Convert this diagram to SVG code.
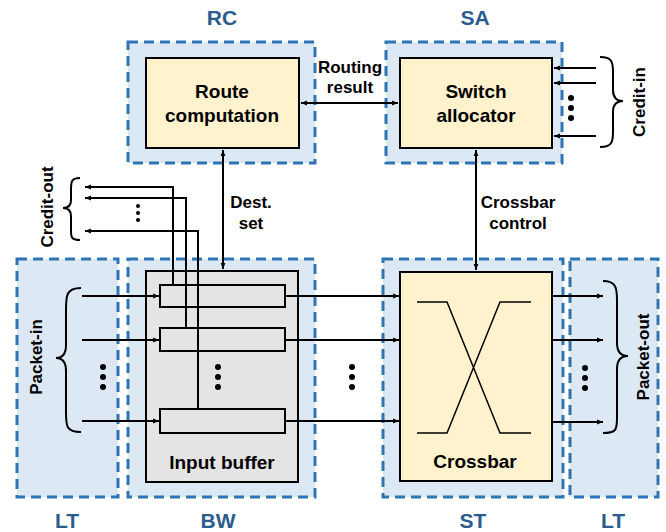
<svg xmlns="http://www.w3.org/2000/svg" width="666" height="532" viewBox="0 0 666 532">
<defs>
<marker id="ah" viewBox="0 0 10 10" refX="10" refY="5" markerWidth="6" markerHeight="6" orient="auto-start-reverse" markerUnits="userSpaceOnUse">
<path d="M0,1 L10,5 L0,9 z" fill="#000"/>
</marker>
<style>
.stage{fill:#DDE8F5;stroke:#2E75B6;stroke-width:3;stroke-dasharray:10 6}
.blk{fill:#FFF2CC;stroke:#000;stroke-width:2}
.buf{fill:#E4E4E4;stroke:#000;stroke-width:2}
.slot{fill:#E4E4E4;stroke:#000;stroke-width:2}
.ln{fill:none;stroke:#000;stroke-width:2}
.th{fill:none;stroke:#000;stroke-width:1.5}
.t{font-family:"Liberation Sans",Arial,sans-serif;font-weight:bold;fill:#000;text-anchor:middle}
.st{font-family:"Liberation Sans",Arial,sans-serif;font-weight:bold;fill:#2B5C8E;text-anchor:middle;font-size:21px}
</style>
</defs>
<rect width="666" height="532" fill="#fff"/>

<g id="stages">
<rect class="stage" x="128" y="42" width="187" height="121"/>
<rect class="stage" x="386" y="42" width="176" height="121"/>
<rect class="stage" x="17" y="259" width="101" height="238"/>
<rect class="stage" x="128" y="259" width="187" height="238"/>
<rect class="stage" x="383" y="259" width="180" height="238"/>
<rect class="stage" x="570" y="259" width="88" height="238"/>
<text class="st" x="222" y="25">RC</text>
<text class="st" x="475" y="25">SA</text>
<text class="st" x="67" y="528">LT</text>
<text class="st" x="218" y="528">BW</text>
<text class="st" x="473" y="528">ST</text>
<text class="st" x="613" y="528">LT</text>
</g>

<g id="rc">
<rect class="blk" x="146" y="58" width="153" height="90"/>
<text class="t" x="222" y="98" font-size="19">Route</text>
<text class="t" x="222" y="122" font-size="19">computation</text>
</g>

<g id="sa">
<rect class="blk" x="400" y="58" width="152" height="90"/>
<text class="t" x="476" y="98" font-size="19">Switch</text>
<text class="t" x="476" y="122" font-size="19">allocator</text>
</g>

<g id="ib">
<rect class="buf" x="146" y="271" width="152" height="211"/>
<rect class="slot" x="160" y="285" width="125" height="22"/>
<rect class="slot" x="160" y="328" width="125" height="23"/>
<rect class="slot" x="160" y="409" width="125" height="24"/>
<text class="t" x="222" y="469" font-size="19">Input buffer</text>
</g>

<g id="xbar">
<rect class="blk" x="400" y="272" width="152" height="209"/>
<path class="th" d="M417,302 H447 L500,433 H531 M417,433 H447 L500,302 H531"/>
<text class="t" x="475" y="468" font-size="19">Crossbar</text>
</g>

<g id="connectors">
<line class="ln" x1="301" y1="103" x2="398" y2="103" marker-start="url(#ah)" marker-end="url(#ah)"/>
<line class="ln" x1="223" y1="150" x2="223" y2="269" marker-start="url(#ah)" marker-end="url(#ah)"/>
<line class="ln" x1="476" y1="150" x2="476" y2="270" marker-start="url(#ah)" marker-end="url(#ah)"/>
<line class="ln" x1="596" y1="68" x2="554" y2="68" marker-end="url(#ah)"/>
<line class="ln" x1="596" y1="83" x2="554" y2="83" marker-end="url(#ah)"/>
<line class="ln" x1="596" y1="136" x2="554" y2="136" marker-end="url(#ah)"/>
<line class="ln" x1="82" y1="296" x2="159" y2="296" marker-end="url(#ah)"/>
<line class="ln" x1="82" y1="340" x2="159" y2="340" marker-end="url(#ah)"/>
<line class="ln" x1="82" y1="421" x2="159" y2="421" marker-end="url(#ah)"/>
<line class="ln" x1="285" y1="296" x2="399" y2="296" marker-end="url(#ah)"/>
<line class="ln" x1="285" y1="340" x2="399" y2="340" marker-end="url(#ah)"/>
<line class="ln" x1="285" y1="421" x2="399" y2="421" marker-end="url(#ah)"/>
<line class="ln" x1="552" y1="296" x2="603" y2="296" marker-end="url(#ah)"/>
<line class="ln" x1="552" y1="340" x2="603" y2="340" marker-end="url(#ah)"/>
<line class="ln" x1="552" y1="422" x2="603" y2="422" marker-end="url(#ah)"/>
<polyline class="ln" points="173,285 173,187 85,187" marker-end="url(#ah)"/>
<polyline class="ln" points="186,328 186,198 85,198" marker-end="url(#ah)"/>
<polyline class="ln" points="198,409 198,231 85,231" marker-end="url(#ah)"/>
</g>

<g id="braces">
<path class="ln" d="M81,288 C66,288 66,296 66,310 V345 C66,355 62,358 56,358 C62,358 66,361 66,371 V412 C66,426 66,432 81,432"/>
<path class="ln" d="M80,178 C71,178 71,182 71,190 V200 C71,205 68,208 63,208 C68,208 71,211 71,216 V230 C71,237 71,240 80,240"/>
<path class="ln" d="M600,57 C612,57 613,62 613,72 V90 C613,98 617,101 623,101 C617,101 613,104 613,112 V132 C613,142 612,147 600,147"/>
<path class="ln" d="M603,281 C616,281 617,288 617,300 V343 C617,352 621,356 628,356 C621,356 617,360 617,369 V418 C617,430 616,433 603,433"/>
</g>

<g id="dots" fill="#000">
<circle cx="138" cy="206" r="2"/><circle cx="138" cy="213" r="2"/><circle cx="138" cy="220" r="2"/>
<circle cx="571" cy="98" r="3"/><circle cx="571" cy="108" r="3"/><circle cx="571" cy="118" r="3"/>
<circle cx="103" cy="367" r="3"/><circle cx="103" cy="377" r="3"/><circle cx="103" cy="387" r="3"/>
<circle cx="218" cy="367" r="3"/><circle cx="218" cy="377" r="3"/><circle cx="218" cy="387" r="3"/>
<circle cx="352" cy="367" r="3"/><circle cx="352" cy="377" r="3"/><circle cx="352" cy="387" r="3"/>
<circle cx="585" cy="368" r="3"/><circle cx="585" cy="378" r="3"/><circle cx="585" cy="388" r="3"/>
</g>

<g id="labels">
<text class="t" x="350" y="73" font-size="17">Routing</text>
<text class="t" x="350" y="93" font-size="17">result</text>
<text class="t" x="251" y="208" font-size="17">Dest.</text>
<text class="t" x="251" y="229" font-size="17">set</text>
<text class="t" x="518" y="208" font-size="17">Crossbar</text>
<text class="t" x="518" y="229" font-size="17">control</text>
<text class="t" font-size="17" transform="translate(645,102) rotate(-90)">Credit-in</text>
<text class="t" font-size="17" transform="translate(53,207) rotate(-90)">Credit-out</text>
<text class="t" font-size="17" transform="translate(42,357) rotate(-90)">Packet-in</text>
<text class="t" font-size="17" transform="translate(649,357) rotate(-90)">Packet-out</text>
</g>
</svg>
